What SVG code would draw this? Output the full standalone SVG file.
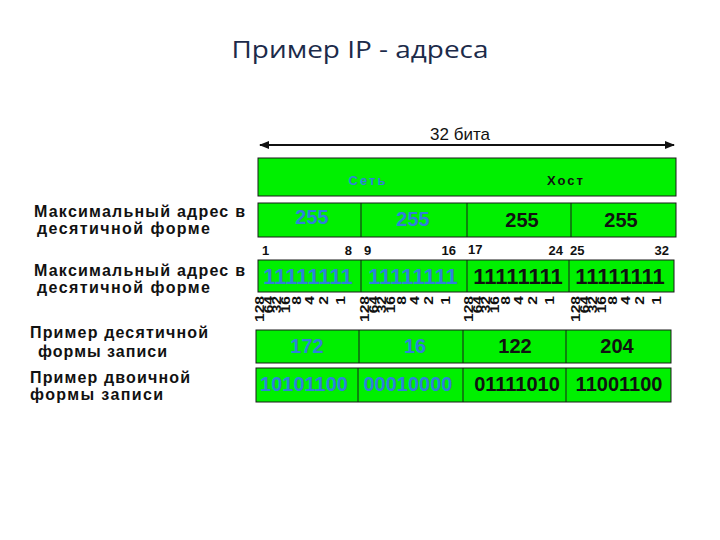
<svg xmlns="http://www.w3.org/2000/svg" width="720" height="540" viewBox="0 0 720 540">
<style>
.cell{fill:#00f000;stroke:#1a1a1a;stroke-width:1}
.div{stroke:#1a1a1a;stroke-width:1}
.lbl{font-family:"Liberation Sans",Arial,sans-serif;font-size:16px;font-weight:bold;fill:#111}
.num{font-family:"Liberation Sans",Arial,sans-serif;font-weight:bold;text-anchor:middle}
.blue{fill:#2f80da}
.blk{fill:#111}
.bit{font-family:"Liberation Sans",Arial,sans-serif;font-size:13px;font-weight:bold;fill:#111}
.w{font-family:"Liberation Sans",Arial,sans-serif;font-size:12px;font-weight:bold;fill:#111;text-anchor:end}
</style>
<defs>
<marker id="ah" viewBox="0 0 10 10" refX="9" refY="5" markerWidth="5" markerHeight="5" orient="auto-start-reverse">
<path d="M0,1 L10,5 L0,9 z" fill="#111"/>
</marker>
</defs>
<rect width="720" height="540" fill="#fff"/>
<text x="360" y="58" text-anchor="middle" font-family="'Open Sans','Noto Sans',sans-serif" font-size="24" fill="#1c2b4a" textLength="257" lengthAdjust="spacingAndGlyphs">Пример IP - адреса</text>

<g id="connectors">
<line x1="260" y1="145" x2="674" y2="145" stroke="#111" stroke-width="2" marker-start="url(#ah)" marker-end="url(#ah)"/>
</g>
<g id="bits-label">
<text x="460" y="140" text-anchor="middle" font-family="'Liberation Sans',Arial,sans-serif" font-size="17" fill="#111">32 бита</text>
</g>

<g id="band">
<rect class="cell" x="258" y="158" width="418" height="38"/>
<text x="368" y="185" text-anchor="middle" font-family="'Liberation Sans',Arial,sans-serif" font-size="13" font-weight="bold" letter-spacing="2" class="blue">Сеть</text>
<text x="566" y="185" text-anchor="middle" font-family="'Liberation Sans',Arial,sans-serif" font-size="13" font-weight="bold" letter-spacing="2" class="blk">Хост</text>
</g>

<g id="row-max-dec">
<rect class="cell" x="258" y="203" width="418" height="34"/>
<line class="div" x1="361" y1="203" x2="361" y2="237"/>
<line class="div" x1="467" y1="203" x2="467" y2="237"/>
<line class="div" x1="571" y1="203" x2="571" y2="237"/>
<text class="num blue" x="312" y="224" font-size="20">255</text>
<text class="num blue" x="413" y="226" font-size="20">255</text>
<text class="num blk" x="522" y="227" font-size="20">255</text>
<text class="num blk" x="621" y="227" font-size="20">255</text>
</g>

<g id="bit-positions">
<text class="bit" x="262" y="255">1</text>
<text class="bit" x="352" y="255" text-anchor="end">8</text>
<text class="bit" x="364" y="255">9</text>
<text class="bit" x="456" y="255" text-anchor="end">16</text>
<text class="bit" x="468" y="254">17</text>
<text class="bit" x="563" y="255" text-anchor="end">24</text>
<text class="bit" x="570" y="255">25</text>
<text class="bit" x="669" y="255" text-anchor="end">32</text>
</g>

<g id="row-max-bin">
<rect class="cell" x="258" y="260" width="416" height="32"/>
<line class="div" x1="361" y1="260" x2="361" y2="292"/>
<line class="div" x1="467" y1="260" x2="467" y2="292"/>
<line class="div" x1="569" y1="260" x2="569" y2="292"/>
<text class="num blue" x="308" y="284" font-size="22">11111111</text>
<text class="num blue" x="413" y="284" font-size="22">11111111</text>
<text class="num blk" x="518" y="284" font-size="22">11111111</text>
<text class="num blk" x="620" y="284" font-size="22">11111111</text>
</g>

<g id="weights">
<g transform="translate(264,296)">
<text class="w" transform="translate(0,0) rotate(-90) scale(1.3,1)">128</text>
<text class="w" transform="translate(8.5,0) rotate(-90) scale(1.3,1)">64</text>
<text class="w" transform="translate(17,0) rotate(-90) scale(1.3,1)">32</text>
<text class="w" transform="translate(26,0) rotate(-90) scale(1.3,1)">16</text>
<text class="w" transform="translate(37,0) rotate(-90) scale(1.3,1)">8</text>
<text class="w" transform="translate(50,0) rotate(-90) scale(1.3,1)">4</text>
<text class="w" transform="translate(64,0) rotate(-90) scale(1.3,1)">2</text>
<text class="w" transform="translate(81,0) rotate(-90) scale(1.3,1)">1</text>
</g>
<g transform="translate(369,296)">
<text class="w" transform="translate(0,0) rotate(-90) scale(1.3,1)">128</text>
<text class="w" transform="translate(8.5,0) rotate(-90) scale(1.3,1)">64</text>
<text class="w" transform="translate(17,0) rotate(-90) scale(1.3,1)">32</text>
<text class="w" transform="translate(26,0) rotate(-90) scale(1.3,1)">16</text>
<text class="w" transform="translate(37,0) rotate(-90) scale(1.3,1)">8</text>
<text class="w" transform="translate(50,0) rotate(-90) scale(1.3,1)">4</text>
<text class="w" transform="translate(64,0) rotate(-90) scale(1.3,1)">2</text>
<text class="w" transform="translate(81,0) rotate(-90) scale(1.3,1)">1</text>
</g>
<g transform="translate(473,296)">
<text class="w" transform="translate(0,0) rotate(-90) scale(1.3,1)">128</text>
<text class="w" transform="translate(8.5,0) rotate(-90) scale(1.3,1)">64</text>
<text class="w" transform="translate(17,0) rotate(-90) scale(1.3,1)">32</text>
<text class="w" transform="translate(26,0) rotate(-90) scale(1.3,1)">16</text>
<text class="w" transform="translate(37,0) rotate(-90) scale(1.3,1)">8</text>
<text class="w" transform="translate(50,0) rotate(-90) scale(1.3,1)">4</text>
<text class="w" transform="translate(64,0) rotate(-90) scale(1.3,1)">2</text>
<text class="w" transform="translate(81,0) rotate(-90) scale(1.3,1)">1</text>
</g>
<g transform="translate(580,296)">
<text class="w" transform="translate(0,0) rotate(-90) scale(1.3,1)">128</text>
<text class="w" transform="translate(8.5,0) rotate(-90) scale(1.3,1)">64</text>
<text class="w" transform="translate(17,0) rotate(-90) scale(1.3,1)">32</text>
<text class="w" transform="translate(26,0) rotate(-90) scale(1.3,1)">16</text>
<text class="w" transform="translate(37,0) rotate(-90) scale(1.3,1)">8</text>
<text class="w" transform="translate(50,0) rotate(-90) scale(1.3,1)">4</text>
<text class="w" transform="translate(64,0) rotate(-90) scale(1.3,1)">2</text>
<text class="w" transform="translate(81,0) rotate(-90) scale(1.3,1)">1</text>
</g>
</g>

<g id="row-ex-dec">
<rect class="cell" x="256" y="330" width="415" height="33"/>
<line class="div" x1="359" y1="330" x2="359" y2="363"/>
<line class="div" x1="463" y1="330" x2="463" y2="363"/>
<line class="div" x1="566" y1="330" x2="566" y2="363"/>
<text class="num blue" x="307" y="353" font-size="20">172</text>
<text class="num blue" x="415" y="353" font-size="20">16</text>
<text class="num blk" x="515" y="353" font-size="20">122</text>
<text class="num blk" x="617" y="353" font-size="20">204</text>
</g>

<g id="row-ex-bin">
<rect class="cell" x="256" y="368" width="415" height="34"/>
<line class="div" x1="358" y1="368" x2="358" y2="402"/>
<line class="div" x1="463" y1="368" x2="463" y2="402"/>
<line class="div" x1="566" y1="368" x2="566" y2="402"/>
<text class="num blue" x="304" y="391" font-size="20">10101100</text>
<text class="num blue" x="408" y="391" font-size="20">00010000</text>
<text class="num blk" x="517" y="391" font-size="20">01111010</text>
<text class="num blk" x="619" y="391" font-size="20">11001100</text>
</g>

<g id="labels">
<text class="lbl" x="34" y="217" textLength="211" lengthAdjust="spacing">Максимальный адрес в</text>
<text class="lbl" x="37" y="234" textLength="173" lengthAdjust="spacing">десятичной форме</text>
<text class="lbl" x="34" y="276" textLength="211" lengthAdjust="spacing">Максимальный адрес в</text>
<text class="lbl" x="37" y="293" textLength="173" lengthAdjust="spacing">десятичной форме</text>
<text class="lbl" x="30" y="338" textLength="178" lengthAdjust="spacing">Пример десятичной</text>
<text class="lbl" x="38" y="357" textLength="129" lengthAdjust="spacing">формы записи</text>
<text class="lbl" x="30" y="383" textLength="160" lengthAdjust="spacing">Пример двоичной</text>
<text class="lbl" x="30" y="400" textLength="133" lengthAdjust="spacing">формы записи</text>
</g>
</svg>
